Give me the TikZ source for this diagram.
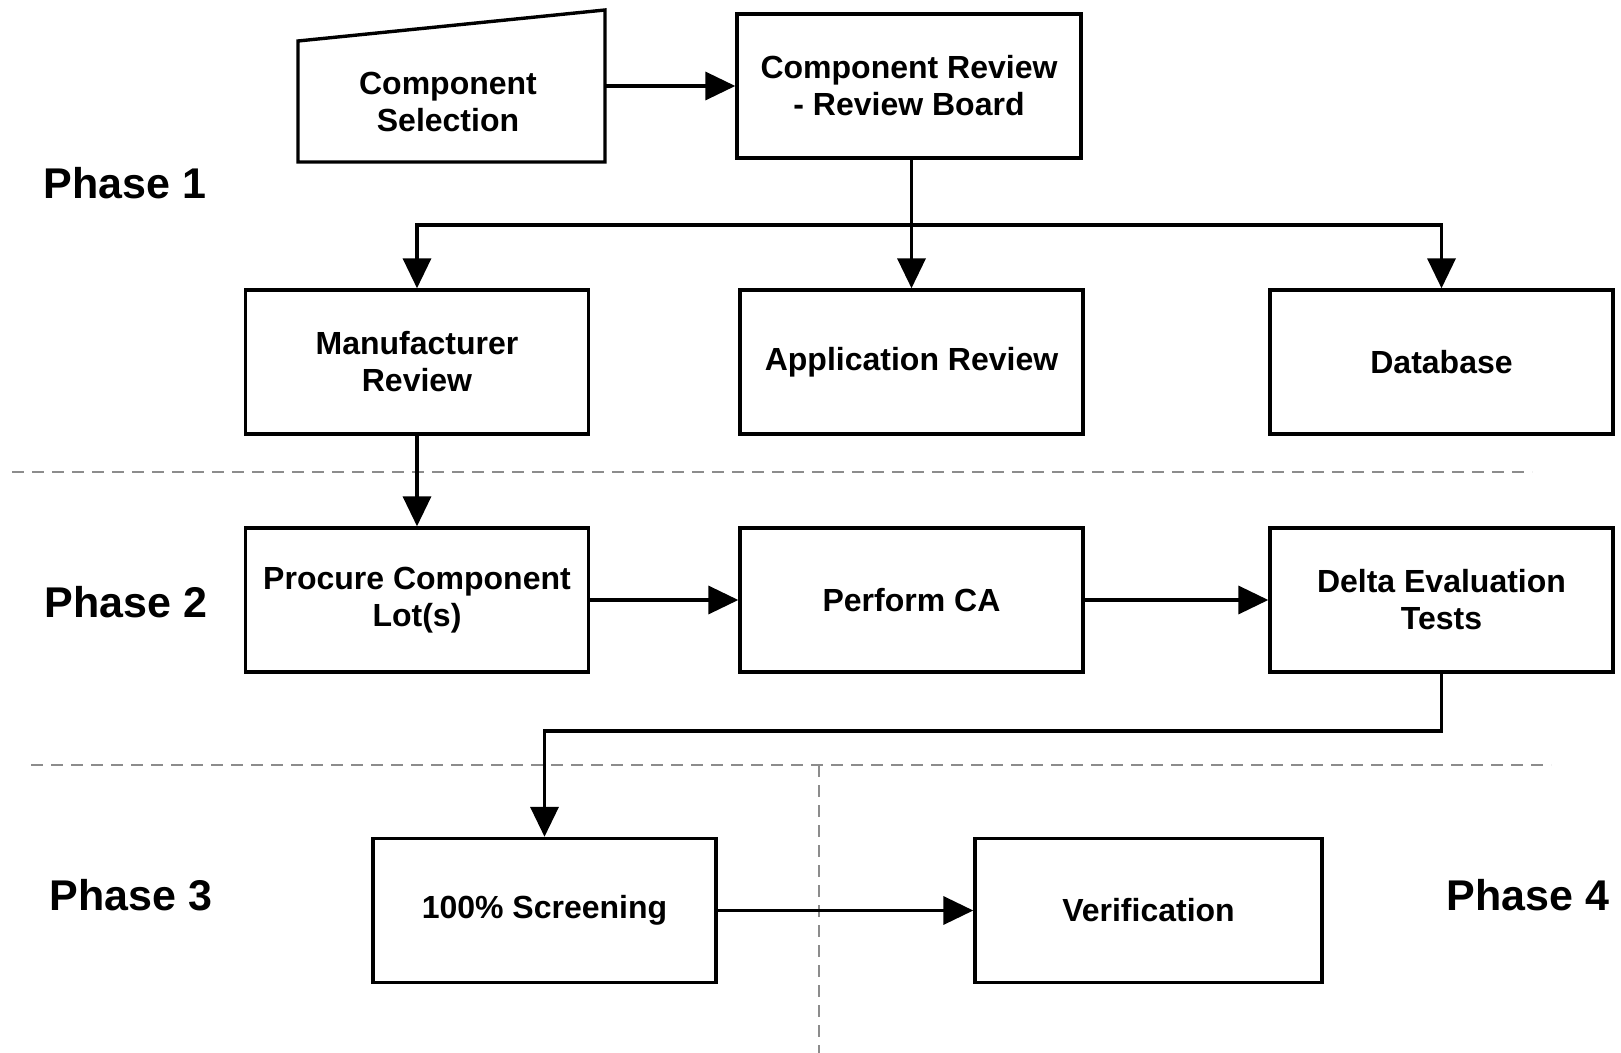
\documentclass[tikz,border=0pt]{standalone}
\usepackage{fontspec}
\setmainfont{Liberation Sans}
\usetikzlibrary{arrows.meta}
\begin{document}
\begin{tikzpicture}[x=0.5pt,y=-0.5pt,
  box/.style={draw=black,line width=1.7pt,rectangle,minimum width=171.5pt,minimum height=72pt,inner sep=0pt,align=center,font=\fontsize{16}{18.5}\selectfont\bfseries},
  arr/.style={line width=1.8pt,-{Triangle[length=15pt,width=14pt]}},
  sep/.style={draw=black!45,line width=0.75pt,dash pattern=on 6pt off 4pt},
  phase/.style={font=\fontsize{21.5}{24}\selectfont\bfseries}]
\useasboundingbox (0,0) rectangle (1621,1053);
% Component selection (manual input shape)
\draw[line width=1.7pt,line join=miter] (298,41) -- (605,10) -- (605,162) -- (298,162) -- cycle;
\node[align=center,font=\fontsize{16}{18.5}\selectfont\bfseries] (csel) at (448,102) {Component\\Selection};
\coordinate (csR) at (605,86);
% boxes
\node[box,minimum width=172pt] (cr) at (909,86) {Component Review\\- Review Board};
\node[box] (mr) at (417,362) {Manufacturer\\Review};
\node[box] (app) at (911.5,362) {Application Review};
\node[box] (db) at (1441.5,362) {Database};
\node[box] (pc) at (417,600) {Procure Component\\Lot(s)};
\node[box] (ca) at (911.5,600) {Perform CA};
\node[box] (de) at (1441.5,600) {Delta Evaluation\\Tests};
\node[box] (sc) at (544.5,910.5) {100\% Screening};
\node[box,minimum width=173.5pt] (ver) at (1148.5,910.5) {Verification};
% phase labels
\node[phase] (p1) at (125,183) {Phase 1};
\node[phase] (p2) at (126,602) {Phase 2};
\node[phase] (p3) at (131,895) {Phase 3};
\node[phase] (p4) at (1528,895) {Phase 4};
% separators
\draw[sep] (12,472) -- (1532,472);
\draw[sep] (31,765) -- (1551,765);
\draw[sep] (819,765) -- (819,1053);
% connectors
\coordinate (br) at (app.north |- 0,225);
\coordinate (dl) at (de.south |- 0,731);
\draw[arr] (csR) -- (cr.west |- csR);
\draw[arr] (app.north |- cr.south) -- (app.north);
\draw[line width=1.8pt] (mr.north |- br) -- (db.north |- br);
\draw[arr] (br) -| (mr.north);
\draw[arr] (br) -| (db.north);
\draw[arr] (mr.south) -- (pc.north);
\draw[arr] (pc.east) -- (ca.west);
\draw[arr] (ca.east) -- (de.west);
\draw[arr] (de.south) -- (dl) -| (sc.north);
\draw[arr] (sc.east) -- (ver.west);
\end{tikzpicture}
\end{document}
